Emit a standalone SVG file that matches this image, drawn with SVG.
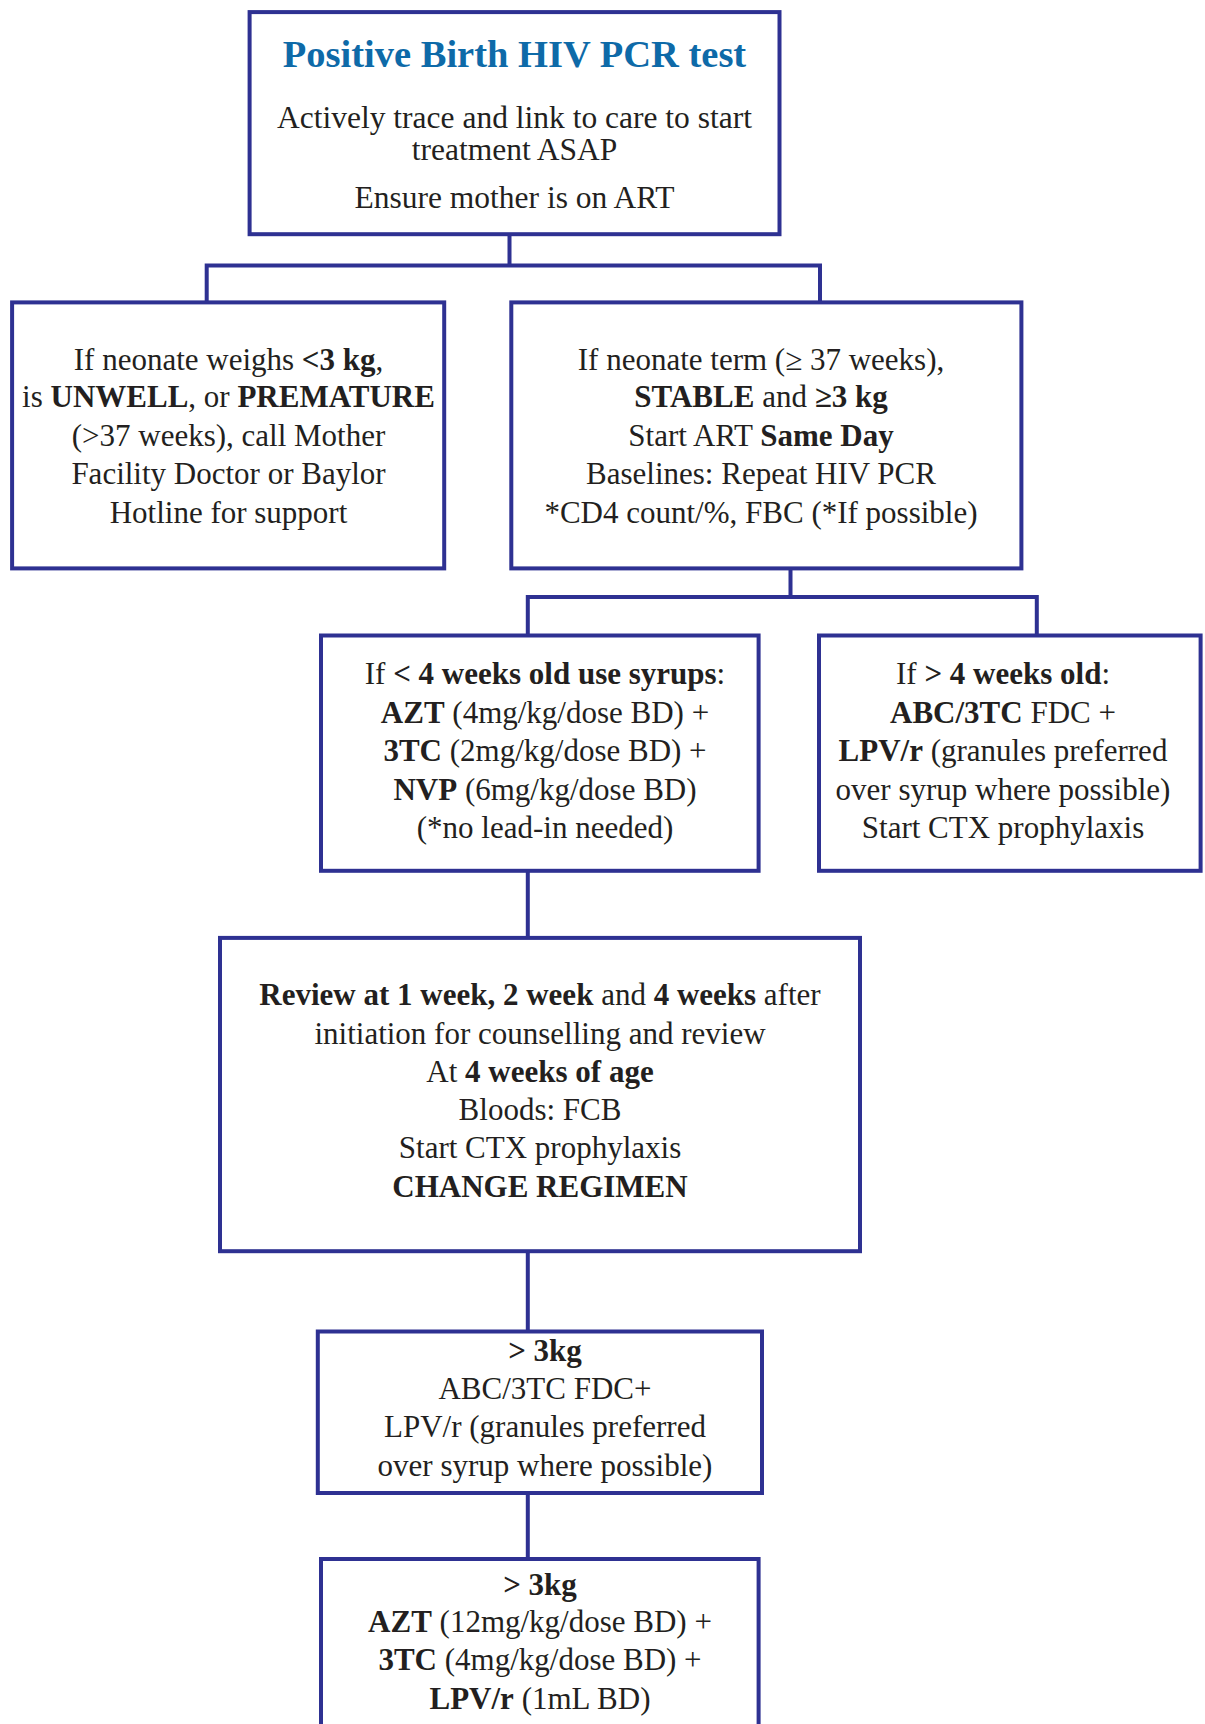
<svg xmlns="http://www.w3.org/2000/svg" width="1205" height="1724" viewBox="0 0 1205 1724">
  <style>
    .box { fill: #ffffff; stroke: #2e3192; stroke-width: 4; }
    .conn { fill: none; stroke: #2e3192; stroke-width: 4; }
    text { font-family: "Liberation Serif", "Times New Roman", serif; font-size: 31px; fill: #231f20; text-anchor: middle; }
    .b { font-weight: bold; }
    .lead { font-size: 31.5px; }
    .title { fill: #0e6aa8; font-size: 38.5px; font-weight: bold; }
  </style>
  <rect width="1205" height="1724" fill="#ffffff"/>

  <!-- connectors -->
  <g id="connectors">
    <path class="conn" d="M509.5,234 V265.5 M206.7,302 V265.5 H820 V302"/>
    <path class="conn" d="M790.5,568 V597 M527.8,635.5 V597 H1036.8 V635.5"/>
    <path class="conn" d="M527.8,871 V938"/>
    <path class="conn" d="M527.8,1251 V1331.5"/>
    <path class="conn" d="M527.8,1493 V1559"/>
  </g>

  <!-- positive birth PCR -->
  <g id="node-start">
    <rect class="box" x="249.6" y="12.1" width="529.9" height="222.1"/>
    <text class="title" x="514.5" y="67">Positive Birth HIV PCR test</text>
    <text class="lead" x="514.5" y="128">Actively trace and link to care to start</text>
    <text class="lead" x="514.5" y="160">treatment ASAP</text>
    <text class="lead" x="514.5" y="208">Ensure mother is on ART</text>
  </g>

  <!-- unwell / premature -->
  <g id="node-unwell">
    <rect class="box" x="12.1" y="302.4" width="432.1" height="266"/>
    <text x="228.5" y="370">If neonate weighs <tspan class="b">&lt;3 kg</tspan>,</text>
    <text x="228.5" y="407">is <tspan class="b">UNWELL</tspan>, or <tspan class="b">PREMATURE</tspan></text>
    <text x="228.5" y="446">(&gt;37 weeks), call Mother</text>
    <text x="228.5" y="484">Facility Doctor or Baylor</text>
    <text x="228.5" y="523">Hotline for support</text>
  </g>

  <!-- term and stable -->
  <g id="node-stable">
    <rect class="box" x="511.3" y="302.4" width="510.1" height="266"/>
    <text x="761" y="370">If neonate term (≥ 37 weeks),</text>
    <text x="761" y="407"><tspan class="b">STABLE</tspan> and <tspan class="b">≥3 kg</tspan></text>
    <text x="761" y="446">Start ART <tspan class="b">Same Day</tspan></text>
    <text x="761" y="484">Baselines: Repeat HIV PCR</text>
    <text x="761" y="523">*CD4 count/%, FBC (*If possible)</text>
  </g>

  <!-- under 4 weeks -->
  <g id="node-under4">
    <rect class="box" x="321" y="635.5" width="437.6" height="235.3"/>
    <text x="545" y="684">If <tspan class="b">&lt; 4 weeks old use syrups</tspan>:</text>
    <text x="545" y="722.6"><tspan class="b">AZT</tspan> (4mg/kg/dose BD) +</text>
    <text x="545" y="761"><tspan class="b">3TC</tspan> (2mg/kg/dose BD) +</text>
    <text x="545" y="799.5"><tspan class="b">NVP</tspan> (6mg/kg/dose BD)</text>
    <text x="545" y="838">(*no lead-in needed)</text>
  </g>

  <!-- over 4 weeks -->
  <g id="node-over4">
    <rect class="box" x="819" y="635.5" width="381.6" height="235.3"/>
    <text x="1003" y="684">If <tspan class="b">&gt; 4 weeks old</tspan>:</text>
    <text x="1003" y="722.6"><tspan class="b">ABC/3TC</tspan> FDC +</text>
    <text x="1003" y="761"><tspan class="b">LPV/r</tspan> (granules preferred</text>
    <text x="1003" y="799.5">over syrup where possible)</text>
    <text x="1003" y="838">Start CTX prophylaxis</text>
  </g>

  <!-- review -->
  <g id="node-review">
    <rect class="box" x="220" y="937.9" width="640" height="313.3"/>
    <text x="540" y="1005"><tspan class="b">Review at 1 week, 2 week</tspan> and <tspan class="b">4 weeks</tspan> after</text>
    <text x="540" y="1044">initiation for counselling and review</text>
    <text x="540" y="1082">At <tspan class="b">4 weeks of age</tspan></text>
    <text x="540" y="1120">Bloods: FCB</text>
    <text x="540" y="1158">Start CTX prophylaxis</text>
    <text x="540" y="1197" class="b">CHANGE REGIMEN</text>
  </g>

  <!-- over 3 kg, LPV/r granules -->
  <g id="node-over3-a">
    <rect class="box" x="317.8" y="1331.5" width="444.2" height="161.5"/>
    <text x="545" y="1361" class="b">&gt; 3kg</text>
    <text x="545" y="1399">ABC/3TC FDC+</text>
    <text x="545" y="1437">LPV/r (granules preferred</text>
    <text x="545" y="1476">over syrup where possible)</text>
  </g>

  <!-- over 3 kg, AZT regimen -->
  <g id="node-over3-b">
    <rect class="box" x="321" y="1559" width="437.6" height="200"/>
    <text x="540" y="1595" class="b">&gt; 3kg</text>
    <text x="540" y="1632"><tspan class="b">AZT</tspan> (12mg/kg/dose BD) +</text>
    <text x="540" y="1670"><tspan class="b">3TC</tspan> (4mg/kg/dose BD) +</text>
    <text x="540" y="1709"><tspan class="b">LPV/r</tspan> (1mL BD)</text>
  </g>
</svg>
